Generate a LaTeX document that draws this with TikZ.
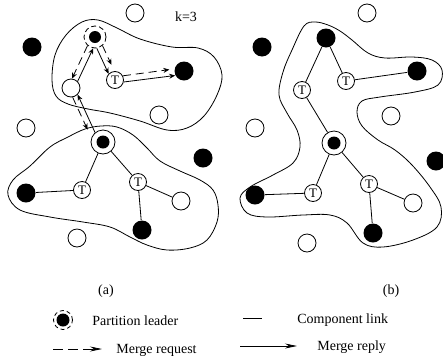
\documentclass[tikz,border=0pt]{standalone}
\usepackage{fontspec}
\setmainfont{Liberation Serif}
\usetikzlibrary{arrows.meta}
\begin{document}
\begin{tikzpicture}[x=1pt,y=-1pt,line width=0.8pt,
  opennode/.style={circle,draw,fill=white,minimum size=18pt,inner sep=0pt},
  blacknode/.style={circle,fill=black,minimum size=19pt,inner sep=0pt},
  tnode/.style={circle,draw,fill=white,minimum size=17pt,inner sep=0pt,font=\fontsize{13}{13}\selectfont},
  ringlead/.style={circle,draw,fill=white,minimum size=24pt,inner sep=0pt,
    path picture={\fill[black] (path picture bounding box.center) circle (6.5pt);}},
  dashlead/.style={circle,draw,dash pattern=on 5pt off 3pt,minimum size=22pt,inner sep=0pt,
    path picture={\fill[black] (path picture bounding box.center) circle (6pt);}},
  legendlead/.style={circle,draw,dash pattern=on 4pt off 3pt,minimum size=19pt,inner sep=0pt,
    path picture={\fill[black] (path picture bounding box.center) circle (6.5pt);}},
  req/.style={dash pattern=on 8pt off 5pt,-{Stealth[length=6pt,width=5pt]}},
  rep/.style={-{Stealth[length=6pt,width=5pt]}},
  legreq/.style={dash pattern=on 10pt off 5pt,-{Stealth[length=12pt,width=5pt]}},
  legrep/.style={-{Stealth[length=12pt,width=5pt]}},
  lbl/.style={inner sep=0pt,font=\fontsize{14}{16}\selectfont}
]
\useasboundingbox (0,0) rectangle (443,362);

% ---------- panel (a) ----------
\draw plot[smooth cycle,tension=0.6] coordinates {(52,80) (55,55) (66,35) (82,22) (98,20) (117,28) (140,39) (172,47) (198,48) (214,57) (222,75) (217,95) (204,116) (187,128) (167,130) (140,121) (110,113) (88,109) (68,104) (56,96)};
\draw plot[smooth cycle,tension=0.6] coordinates {(50,147) (68,137) (85,129) (101,126) (117,127) (133,135) (147,148) (160,161) (180,171) (200,180) (213,190) (218,205) (217,222) (207,240) (190,248) (167,250) (147,245) (130,237) (110,227) (83,222) (50,217) (20,210) (8,195) (13,180) (30,166)};

\node[opennode] (a1) at (135,13) {};
\node[lbl] (k) at (186,17) {k=3};
\node[blacknode] (a2) at (32,47) {};
\node[dashlead] (L1) at (95,37) {};
\node[opennode] (O1) at (71,88) {};
\node[tnode] (T1) at (115,80) {T};
\node[blacknode] (B1) at (184,71) {};
\node[opennode] (a3) at (159,115) {};
\node[opennode] (a4) at (26,128) {};
\node[ringlead] (L2) at (103,142) {};
\node[blacknode] (a5) at (203,158) {};
\node[tnode] (T2) at (82,190) {T};
\node[tnode] (T3) at (138,182) {T};
\node[blacknode] (B2) at (26,193) {};
\node[opennode] (O2) at (181,201) {};
\node[blacknode] (B3) at (142,230) {};
\node[opennode] (a6) at (77,238) {};

\draw (L2) -- (T2);
\draw (L2) -- (T3);
\draw (T2) -- (B2);
\draw (T3) -- (O2);
\draw (T3) -- (B3);

\draw[req] (L1.229) -- (O1.84);
\draw[rep] (O1.45) -- (L1.261);
\draw[req,shorten >=7pt] (L1.311) -- (T1.94);
\draw[rep] (L1.279) -- (T1.136);
\draw[req,shorten >=5pt] (T1.28) -- (B1.168);
\draw[rep] (T1.-13) -- (B1.207);
\draw[req,shorten >=9pt] (O1.280) -- (L2.160);
\draw[rep] (L2.130) -- (O1.315);

% ---------- panel (b) ----------
\draw plot[smooth cycle,tension=0.6] coordinates {(304,26) (315,22) (328,25) (340,31) (352,40) (368,53) (385,58) (412,57) (432,60) (442,70) (438,85) (415,92) (380,97) (362,101) (357,112) (362,126) (378,140) (395,150) (412,165) (430,187) (441,207) (437,227) (413,240) (383,247) (363,243) (347,223) (330,215) (303,215) (267,217) (247,213) (240,198) (250,187) (273,175) (293,163) (300,147) (297,130) (287,113) (279,95) (283,72) (292,50)};

\node[opennode] (b1) at (367,13) {};
\node[blacknode] (b2) at (262,47) {};
\node[blacknode] (Lb1) at (326,38) {};
\node[tnode] (Tb1) at (302,90) {T};
\node[tnode] (Tb2) at (346,81) {T};
\node[blacknode] (Bb1) at (417,71) {};
\node[opennode] (b3) at (391,116) {};
\node[opennode] (b4) at (255,128) {};
\node[ringlead] (Lb2) at (334,143) {};
\node[blacknode] (b5) at (436,161) {};
\node[tnode] (Tb3) at (313,193) {T};
\node[tnode] (Tb4) at (369,184) {T};
\node[blacknode] (Bb2) at (255,195) {};
\node[opennode] (Ob) at (413,203) {};
\node[blacknode] (Bb3) at (373,233) {};
\node[opennode] (b6) at (307,243) {};

\draw (Lb1) -- (Tb1);
\draw (Lb1) -- (Tb2);
\draw (Tb2) -- (Bb1);
\draw (Tb1) -- (Lb2);
\draw (Lb2) -- (Tb3);
\draw (Lb2) -- (Tb4);
\draw (Tb3) -- (Bb2);
\draw (Tb4) -- (Ob);
\draw (Tb4) -- (Bb3);

% ---------- captions ----------
\node[lbl] (capa) at (106,291) {(a)};
\node[lbl] (capb) at (391,291) {(b)};

% ---------- legend ----------
\node[legendlead] (lg1) at (63,320) {};
\node[lbl,anchor=west] (lg1t) at (92,321) {Partition leader};
\coordinate (cl1) at (243,318);
\coordinate (cl2) at (262,318);
\draw (cl1) -- (cl2);
\node[lbl,anchor=west] (lg2t) at (297,320) {Component link};
\coordinate (mq1) at (53,349);
\coordinate (mq2) at (102,349);
\draw[legreq] (mq1) -- (mq2);
\node[lbl,anchor=west] (lg3t) at (116,350) {Merge request};
\coordinate (mr1) at (240,346);
\coordinate (mr2) at (297,346);
\draw[legrep] (mr1) -- (mr2);
\node[lbl,anchor=west] (lg4t) at (317,347) {Merge reply};
\end{tikzpicture}
\end{document}
